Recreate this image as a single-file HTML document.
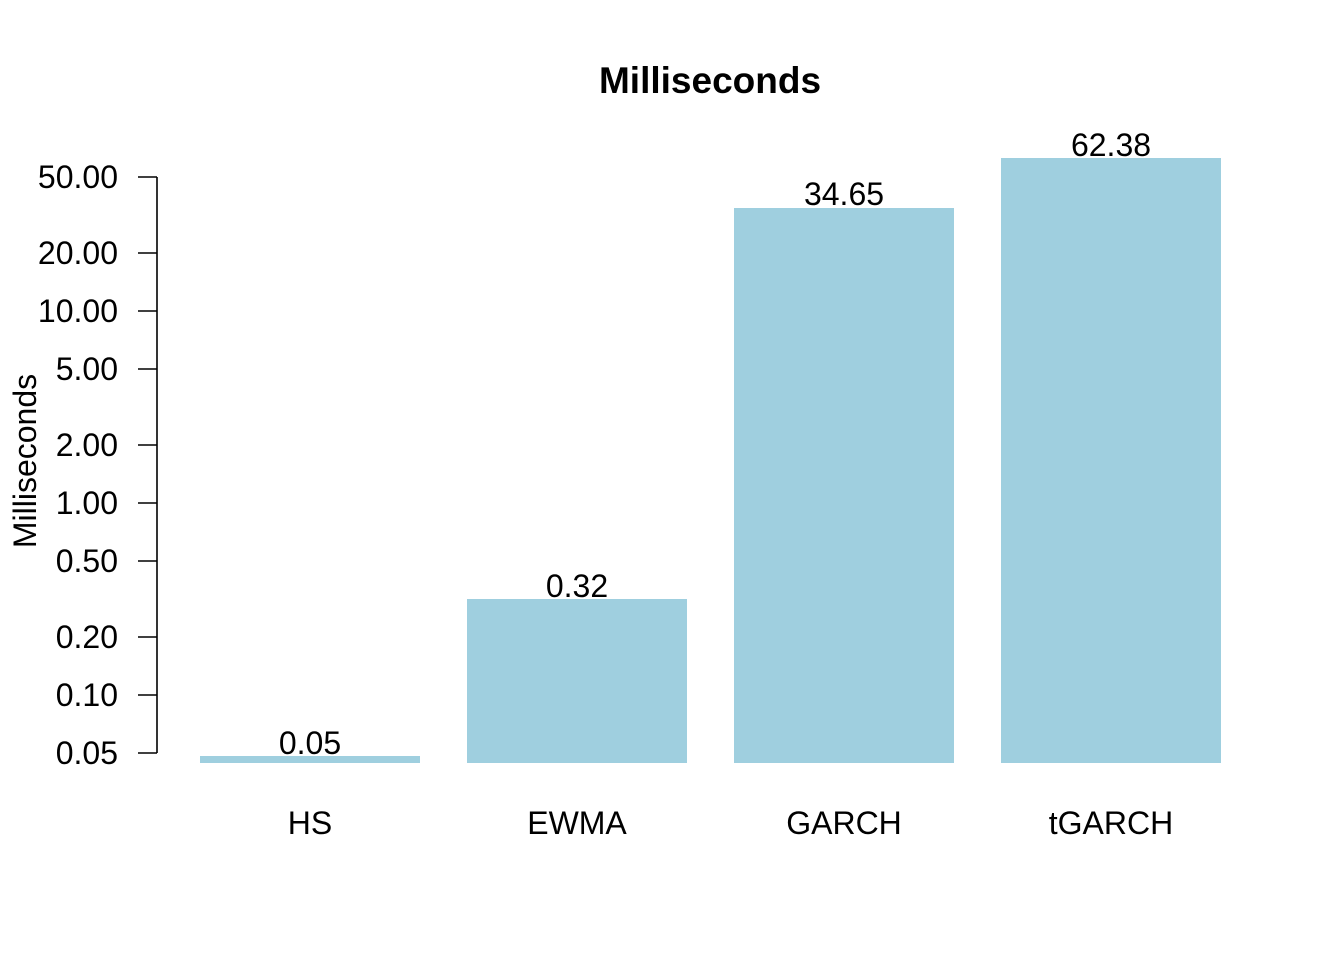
<!DOCTYPE html>
<html><head><meta charset="utf-8"><style>
html,body{margin:0;padding:0;background:#fff;}
svg{display:block;}
text{font-family:"Liberation Sans",Arial,sans-serif;fill:#000;}
</style></head><body>
<svg width="1344" height="960" xmlns="http://www.w3.org/2000/svg">
<text x="710" y="93" font-size="37" font-weight="bold" text-anchor="middle">Milliseconds</text>
<text transform="translate(36,461) rotate(-90)" font-size="32" text-anchor="middle">Milliseconds</text>
<g stroke="#000" stroke-width="1.6" fill="none">
<line x1="157" y1="177" x2="157" y2="753"/>
<line x1="138" y1="177" x2="157" y2="177"/>
<line x1="138" y1="253" x2="157" y2="253"/>
<line x1="138" y1="311" x2="157" y2="311"/>
<line x1="138" y1="369" x2="157" y2="369"/>
<line x1="138" y1="445" x2="157" y2="445"/>
<line x1="138" y1="503" x2="157" y2="503"/>
<line x1="138" y1="561" x2="157" y2="561"/>
<line x1="138" y1="637" x2="157" y2="637"/>
<line x1="138" y1="695" x2="157" y2="695"/>
<line x1="138" y1="753" x2="157" y2="753"/>
</g>
<g font-size="32" text-anchor="end">
<text x="118" y="188">50.00</text>
<text x="118" y="264">20.00</text>
<text x="118" y="322">10.00</text>
<text x="118" y="380">5.00</text>
<text x="118" y="456">2.00</text>
<text x="118" y="514">1.00</text>
<text x="118" y="572">0.50</text>
<text x="118" y="648">0.20</text>
<text x="118" y="706">0.10</text>
<text x="118" y="764">0.05</text>
</g>
<g fill="#9fcfdf">
<rect x="200" y="756" width="220" height="7"/>
<rect x="467" y="599" width="220" height="164"/>
<rect x="734" y="208" width="220" height="555"/>
<rect x="1001" y="158" width="220" height="605"/>
</g>
<g font-size="32" text-anchor="middle">
<text x="310" y="754">0.05</text>
<text x="577" y="597">0.32</text>
<text x="844" y="205">34.65</text>
<text x="1111" y="156">62.38</text>
<text x="310" y="834">HS</text>
<text x="577" y="834">EWMA</text>
<text x="844" y="834">GARCH</text>
<text x="1111" y="834">tGARCH</text>
</g>
</svg>
</body></html>
